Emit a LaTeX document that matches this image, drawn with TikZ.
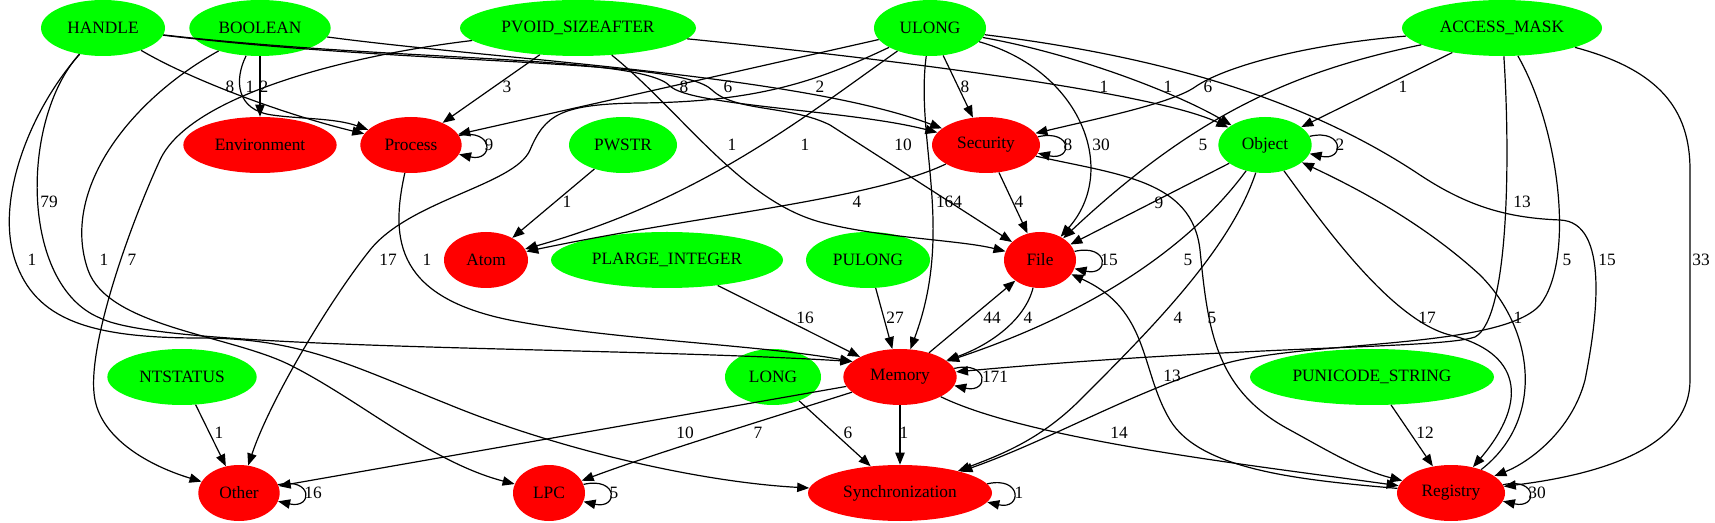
\documentclass[tikz,border=0pt]{standalone}
\usepackage{fontspec}
\setmainfont{Liberation Serif}
\usepackage{tikz}
\usetikzlibrary{shapes.geometric,arrows.meta}
\newcommand{\typecolor}{green}
\newcommand{\catcolor}{red}
\tikzset{
  typenode/.style={ellipse, fill=\typecolor, inner sep=0pt, minimum height=42pt},
  catnode/.style={ellipse, fill=\catcolor, inner sep=0pt, minimum height=42pt},
  dep/.style={-{Triangle[length=9pt,width=7pt]}, line width=0.9pt},
  lbl/.style={inner sep=0pt}
}

\begin{document}
\begin{tikzpicture}[x=0.75pt,y=-0.75pt,font=\fontsize{13}{15}\selectfont]
\useasboundingbox (0,0) rectangle (1715,523);
%types
\node[typenode, minimum width=93pt] (HANDLE) at (103,28) {HANDLE};
\node[typenode, minimum width=106pt] (BOOLEAN) at (260,28) {BOOLEAN};
\node[typenode, minimum width=177pt] (PVOID) at (578,28) {PVOID\_SIZEAFTER};
\node[typenode, minimum width=84pt] (ULONG) at (930,28) {ULONG};
\node[typenode, minimum width=150pt] (ACCESS) at (1502,28) {ACCESS\_MASK};
\node[typenode, minimum width=81pt] (PWSTR) at (623,145) {PWSTR};
\node[typenode, minimum width=70pt] (Object) at (1265,145) {Object};
\node[typenode, minimum width=174pt] (PLARGE) at (667,260) {PLARGE\_INTEGER};
\node[typenode, minimum width=93pt] (PULONG) at (868,260) {PULONG};
\node[typenode, minimum width=112pt] (NTSTATUS) at (182,377) {NTSTATUS};
\node[typenode, minimum width=72pt] (LONG) at (773,377) {LONG};
\node[typenode, minimum width=183pt] (PUNICODE) at (1372,377) {PUNICODE\_STRING};
%categories
\node[catnode, minimum width=115pt] (Env) at (260,145) {Environment};
\node[catnode, minimum width=76pt] (Process) at (411,145) {Process};
\node[catnode, minimum width=81pt] (Security) at (986,145) {Security};
\node[catnode, minimum width=63pt] (Atom) at (486,260) {Atom};
\node[catnode, minimum width=54pt] (File) at (1040,260) {File};
\node[catnode, minimum width=85pt] (Memory) at (900,377) {Memory};
\node[catnode, minimum width=61pt] (Other) at (239,493) {Other};
\node[catnode, minimum width=54pt] (LPC) at (549,493) {LPC};
\node[catnode, minimum width=138pt] (Sync) at (900,493) {Synchronization};
\node[catnode, minimum width=81pt] (Registry) at (1451,493) {Registry};
%HANDLE
\draw[dep] (HANDLE) .. controls (195,82) and (290,116) .. (Process) node[lbl] at (230,87) {8};
\draw[dep] (HANDLE) .. controls (400,62) and (640,55) .. (670,86) .. controls (690,106) and (850,110) .. (Security) node[lbl] at (684,87) {8};
\draw[dep] (HANDLE) .. controls (420,66) and (680,58) .. (712,90) .. controls (735,112) and (790,105) .. (830,125) -- (File) node[lbl] at (903,145) {10};
\draw[dep] (HANDLE) .. controls (20,120) and (20,285) .. (100,318) .. controls (165,351) and (600,346) .. (Memory.162) node[lbl] at (49,202) {79};
\draw[dep] (HANDLE) .. controls (30,110) and (-5,200) .. (15,260) .. controls (35,320) and (90,338) .. (200,338) .. controls (300,338) and (350,365) .. (450,405) .. controls (560,450) and (700,482) .. (Sync) node[lbl] at (32,260) {1};
%BOOLEAN
\draw[dep] (BOOLEAN) -- (Env) node[lbl] at (264,87) {2};
\draw[dep] (BOOLEAN) .. controls (234,80) and (236,110) .. (272,115) .. controls (300,119) and (335,118) .. (Process) node[lbl] at (250,87) {1};
\draw[dep] (BOOLEAN) .. controls (500,60) and (800,75) .. (Security) node[lbl] at (820,87) {2};
\draw[dep] (BOOLEAN) .. controls (130,100) and (60,190) .. (88,270) .. controls (108,327) and (230,335) .. (290,365) .. controls (360,400) and (430,462) .. (LPC) node[lbl] at (104,260) {1};
%PVOID_SIZEAFTER
\draw[dep] (PVOID) -- (Process) node[lbl] at (507,87) {3};
\draw[dep] (PVOID) .. controls (350,55) and (190,95) .. (160,160) .. controls (130,225) and (85,350) .. (95,400) .. controls (103,440) and (150,466) .. (Other) node[lbl] at (132,260) {7};
\draw[dep] (PVOID) .. controls (680,110) and (740,200) .. (820,222) .. controls (880,238) and (960,240) .. (File) node[lbl] at (732,145) {1};
\draw[dep] (PVOID) .. controls (850,55) and (1150,90) .. (Object) node[lbl] at (1104,87) {1};
%ULONG
\draw[dep] (ULONG) -- (Process) node[lbl] at (728,87) {6};
\draw[dep] (ULONG) -- (Security) node[lbl] at (965,87) {8};
\draw[dep] (ULONG) .. controls (1080,55) and (1180,95) .. (Object) node[lbl] at (1168,87) {1};
\draw[dep] (ULONG) .. controls (800,120) and (700,200) .. (Atom) node[lbl] at (805,145) {1};
\draw[dep] (ULONG) .. controls (820,80) and (760,102) .. (640,103) .. controls (560,104) and (545,115) .. (530,150) .. controls (515,185) and (410,200) .. (370,250) .. controls (330,300) and (270,400) .. (Other) node[lbl] at (388,260) {17};
\draw[dep] (ULONG) .. controls (915,140) and (955,230) .. (Memory) node[lbl] at (949,202) {164};
\draw[dep] (ULONG) .. controls (1080,70) and (1120,170) .. (File) node[lbl] at (1101,145) {30};
\draw[dep] (ULONG) .. controls (1150,55) and (1300,95) .. (1420,175) .. controls (1470,208) and (1510,218) .. (1560,220) .. controls (1610,222) and (1597,320) .. (1585,380) .. controls (1572,430) and (1530,462) .. (Registry) node[lbl] at (1607,260) {15};
%ACCESS_MASK
\draw[dep] (ACCESS) .. controls (1300,45) and (1222,68) .. (1195,87) .. controls (1172,103) and (1100,118) .. (Security) node[lbl] at (1208,87) {6};
\draw[dep] (ACCESS) -- (Object) node[lbl] at (1403,87) {1};
\draw[dep] (ACCESS) .. controls (1300,70) and (1200,110) .. (File) node[lbl] at (1203,145) {5};
\draw[dep] (ACCESS) .. controls (1510,150) and (1510,318) .. (1475,337) .. controls (1440,349) and (1250,345) .. (Memory) node[lbl] at (1522,202) {13};
\draw[dep] (ACCESS) .. controls (1560,130) and (1575,260) .. (1540,305) .. controls (1500,350) and (1300,340) .. (1220,365) .. controls (1130,393) and (1050,440) .. (Sync) node[lbl] at (1567,260) {5};
\draw[dep] (ACCESS) .. controls (1660,70) and (1690,110) .. (1690,170) -- (1690,380) .. controls (1690,440) and (1620,472) .. (Registry) node[lbl] at (1701,260) {33};
%single types
\draw[dep] (PWSTR) -- (Atom) node[lbl] at (567,202) {1};
\draw[dep] (PLARGE) -- (Memory) node[lbl] at (805,318) {16};
\draw[dep] (PULONG) -- (Memory) node[lbl] at (895,318) {27};
\draw[dep] (NTSTATUS) -- (Other) node[lbl] at (219,433) {1};
\draw[dep] (LONG) -- (Sync) node[lbl] at (848,433) {6};
\draw[dep] (PUNICODE) -- (Registry) node[lbl] at (1425,433) {12};
%Process
\draw[dep] (Process.11) .. controls +(35,-8) and +(35,8) .. (Process.-11) node[lbl] at (489,145) {9};
\draw[dep] (Process) .. controls (390,240) and (395,300) .. (520,322) .. controls (620,340) and (760,345) .. (Memory.162) node[lbl] at (427,260) {1};
%Security
\draw[dep] (Security.9) .. controls +(35,-8) and +(35,8) .. (Security.-9) node[lbl] at (1068,145) {8};
\draw[dep] (Security) -- (File) node[lbl] at (1019,202) {4};
\draw[dep] (Security) .. controls (870,200) and (700,215) .. (Atom) node[lbl] at (857,202) {4};
\draw[dep] (Security) .. controls (1120,175) and (1192,180) .. (1200,250) .. controls (1208,330) and (1215,390) .. (1290,430) .. controls (1330,452) and (1360,470) .. (Registry) node[lbl] at (1212,318) {5};
%Object
\draw[dep] (Object.11) .. controls +(35,-8) and +(35,8) .. (Object.-11) node[lbl] at (1340,145) {2};
\draw[dep] (Object) -- (File) node[lbl] at (1159,203) {9};
\draw[dep] (Object) .. controls (1210,220) and (1130,300) .. (Memory) node[lbl] at (1188,260) {5};
\draw[dep] (Object) .. controls (1230,250) and (1150,330) .. (1080,400) .. controls (1040,440) and (1000,455) .. (Sync) node[lbl] at (1178,318) {4};
\draw[dep] (Object) .. controls (1320,220) and (1390,320) .. (1450,335) .. controls (1520,352) and (1530,400) .. (Registry) node[lbl] at (1427,318) {17};
%File
\draw[dep] (File.14) .. controls +(35,-8) and +(35,8) .. (File.-14) node[lbl] at (1109,260) {15};
\draw[dep] (File) .. controls (1025,320) and (990,345) .. (Memory) node[lbl] at (1028,318) {4};
%Memory
\draw[dep] (Memory) -- (File) node[lbl] at (992,318) {44};
\draw[dep] (Memory.9) .. controls +(35,-8) and +(35,8) .. (Memory.-9) node[lbl] at (995,377) {171};
\draw[dep] (Memory) -- (Sync) node[lbl] at (904,433) {1};
\draw[dep] (Memory) -- (Other) node[lbl] at (685,433) {10};
\draw[dep] (Memory) .. controls (780,415) and (650,455) .. (LPC) node[lbl] at (758,433) {7};
\draw[dep] (Memory) .. controls (1030,440) and (1250,465) .. (Registry) node[lbl] at (1119,433) {14};
%Registry
\draw[dep] (Registry.9) .. controls +(35,-8) and +(35,8) .. (Registry.-9) node[lbl] at (1537,493) {30};
\draw[dep] (Registry) .. controls (1545,420) and (1535,330) .. (1480,275) .. controls (1420,220) and (1350,185) .. (Object) node[lbl] at (1518,318) {1};
\draw[dep] (Registry) .. controls (1300,480) and (1200,470) .. (1170,420) .. controls (1140,370) and (1150,310) .. (File) node[lbl] at (1172,376) {13};
%bottom loops
\draw[dep] (Other.12) .. controls +(35,-8) and +(35,8) .. (Other.-12) node[lbl] at (313,493) {16};
\draw[dep] (LPC.14) .. controls +(35,-8) and +(35,8) .. (LPC.-14) node[lbl] at (614,493) {5};
\draw[dep] (Sync.6) .. controls +(35,-8) and +(35,8) .. (Sync.-6) node[lbl] at (1019,493) {1};
\end{tikzpicture}
\end{document}
